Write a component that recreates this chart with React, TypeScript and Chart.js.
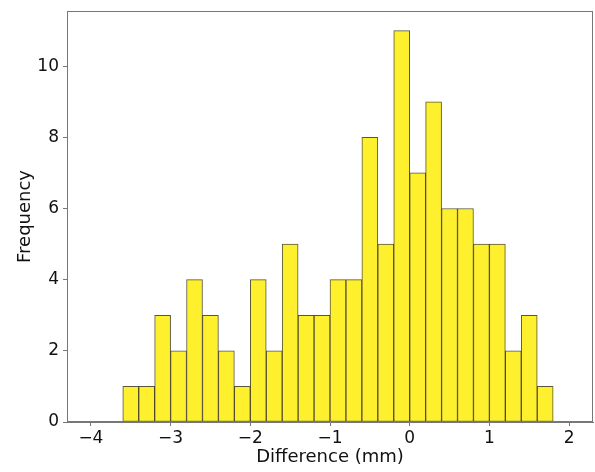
import React, { useEffect, useRef } from "react";
import { Chart, registerables } from "chart.js";

Chart.register(...registerables);

const binCenters = [
  -3.9, -3.7, -3.5, -3.3, -3.1, -2.9, -2.7, -2.5, -2.3, -2.1,
  -1.9, -1.7, -1.5, -1.3, -1.1, -0.9, -0.7, -0.5, -0.3, -0.1,
  0.1, 0.3, 0.5, 0.7, 0.9, 1.1, 1.3, 1.5, 1.7, 1.9,
];
const frequencies = [
  0, 0, 1, 1, 3, 2, 4, 3, 2, 1,
  4, 2, 5, 3, 3, 4, 4, 8, 5, 11,
  7, 9, 6, 6, 5, 5, 2, 3, 1, 0,
];
const xTickValues = [-4, -3, -2, -1, 0, 1, 2];
const yTickValues = [0, 2, 4, 6, 8, 10];

const FONT = "'DejaVu Sans', sans-serif";
const AXIS_COLOR = "#777777";

const framePlugin = {
  id: "frame",
  afterDraw(chart: any) {
    const { ctx, chartArea } = chart;
    ctx.save();
    ctx.strokeStyle = AXIS_COLOR;
    ctx.lineWidth = 1;
    ctx.strokeRect(
      Math.round(chartArea.left) + 0.5,
      Math.round(chartArea.top) + 0.5,
      Math.round(chartArea.right - chartArea.left) - 1,
      Math.round(chartArea.bottom - chartArea.top) - 1
    );
    ctx.restore();
  },
};

const fmt = (v: number) => (v < 0 ? "\u2212" + Math.abs(v) : String(v));

export default function App() {
  const ref = useRef<HTMLCanvasElement | null>(null);

  useEffect(() => {
    document.body.style.margin = "0";
    const canvas = ref.current;
    if (!canvas) return;
    const chart = new Chart(canvas, {
      type: "bar",
      data: {
        datasets: [
          {
            data: binCenters.map((x, i) => ({ x, y: frequencies[i] })),
            backgroundColor: "rgb(255, 240, 45)",
            borderColor: "rgba(60, 55, 20, 0.85)",
            borderWidth: 1,
            borderSkipped: false,
            barPercentage: 1,
            categoryPercentage: 1,
            grouped: false,
          },
        ],
      },
      options: {
        animation: false,
        responsive: false,
        maintainAspectRatio: false,
        layout: { padding: { top: 11, right: 2, left: 0, bottom: 0 } },
        plugins: {
          legend: { display: false },
          tooltip: { enabled: false },
        },
        scales: {
          x: {
            type: "linear",
            min: -4.3,
            max: 2.3,
            offset: false,
            afterBuildTicks: (scale: any) => {
              scale.ticks = xTickValues.map((v) => ({ value: v }));
            },
            afterFit: (scale: any) => {
              scale.height = 50;
              scale.paddingLeft = 0;
              scale.paddingRight = 0;
            },
            grid: {
              display: true,
              offset: false,
              drawOnChartArea: false,
              drawTicks: true,
              tickLength: 4,
              color: AXIS_COLOR,
            },
            border: { display: true, color: AXIS_COLOR, width: 1 },
            ticks: {
              color: "#111",
              font: { family: FONT, size: 17 },
              padding: 2,
              maxRotation: 0,
              autoSkip: false,
              callback: (v: any) => fmt(Number(v)),
            },
            title: {
              display: true,
              text: "Difference (mm)",
              color: "#111",
              font: { family: FONT, size: 18 },
              padding: { top: 0, bottom: 4 },
            },
          },
          y: {
            type: "linear",
            min: 0,
            max: 11.55,
            afterBuildTicks: (scale: any) => {
              scale.ticks = yTickValues.map((v) => ({ value: v }));
            },
            afterFit: (scale: any) => {
              scale.width = 67;
              scale.paddingTop = 0;
              scale.paddingBottom = 0;
            },
            grid: {
              display: true,
              drawOnChartArea: false,
              drawTicks: true,
              tickLength: 4,
              color: AXIS_COLOR,
            },
            border: { display: true, color: AXIS_COLOR, width: 1 },
            ticks: {
              color: "#111",
              font: { family: FONT, size: 17 },
              padding: 4,
              autoSkip: false,
              callback: (v: any) => fmt(Number(v)),
            },
            title: {
              display: true,
              text: "Frequency",
              color: "#111",
              font: { family: FONT, size: 18 },
              padding: { top: 15, bottom: 0 },
            },
          },
        },
      },
      plugins: [framePlugin],
    });
    return () => chart.destroy();
  }, []);

  return (
    <div style={{ position: "fixed", left: 0, top: 0, width: 595, height: 472 }}>
      <canvas ref={ref} width={595} height={472} style={{ width: 595, height: 472, display: "block" }} />
    </div>
  );
}
